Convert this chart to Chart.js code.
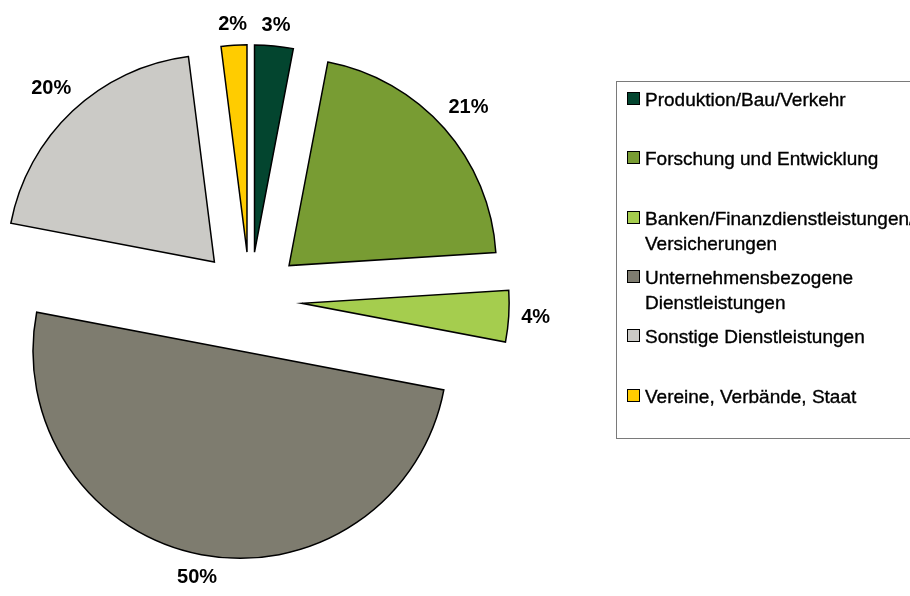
<!DOCTYPE html>
<html>
<head>
<meta charset="utf-8">
<script src="https://cdn.jsdelivr.net/npm/chart.js@4.4.0/dist/chart.umd.min.js"></script>
<style>
  html, body { margin: 0; padding: 0; background: #fff; overflow: hidden; }
  #wrap { position: relative; width: 910px; height: 596px; overflow: hidden; }
  #pie { position: absolute; left: 0; top: 0; }
  #legend {
    position: absolute; left: 616px; top: 81px; width: 330px; height: 356px;
    border: 1px solid #7a7a7a;
    font-family: 'Liberation Sans', Arial, sans-serif; font-size: 19px; line-height: 25px; color: #000;
    -webkit-text-stroke: 0.35px #000;
  }
  .item { position: absolute; left: 10px; white-space: nowrap; }
  .sw { position: absolute; left: 0; top: 5px; width: 11px; height: 11px; border: 1px solid #000; }
  .txt { position: absolute; left: 18px; top: 0; }
</style>
</head>
<body>
<div id="wrap">
  <canvas id="pie" width="910" height="596"></canvas>
  <div id="legend"></div>
</div>
<script>
// categories (legend lines), shares in percent, slice colours
var labels = [
  ['Produktion/Bau/Verkehr'],
  ['Forschung und Entwicklung'],
  ['Banken/Finanzdienstleistungen/', 'Versicherungen'],
  ['Unternehmensbezogene', 'Dienstleistungen'],
  ['Sonstige Dienstleistungen'],
  ['Vereine, Verbände, Staat']
];
var shares = [3, 21, 4, 50, 20, 2];
var colors = ['#03452F', '#789C33', '#A5CD4E', '#7E7C6F', '#CBCAC6', '#FFCC00'];

// how far each slice is pulled out, px
var explode = [48, 52, 52, 52, 52, 48];
var LEGEND_PITCH = 59.3;

// draw each slice shifted out along its middle angle (exploded pie)
var explodePlugin = {
  id: 'explode',
  beforeDatasetDraw: function(chart, args) {
    var ctx = chart.ctx;
    args.meta.data.forEach(function(arc, i) {
      var mid = (arc.startAngle + arc.endAngle) / 2;
      ctx.save();
      ctx.translate(Math.cos(mid) * explode[i], Math.sin(mid) * explode[i]);
      arc.draw(ctx);
      ctx.restore();
    });
    return false;
  }
};

// percentage labels just outside each exploded slice
var pctPlugin = {
  id: 'pctLabels',
  afterDatasetsDraw: function(chart) {
    var ctx = chart.ctx;
    var meta = chart.getDatasetMeta(0);
    ctx.save();
    ctx.font = 'bold 20px "Liberation Sans", Arial, sans-serif';
    ctx.fillStyle = '#000';
    ctx.textAlign = 'center';
    ctx.textBaseline = 'middle';
    meta.data.forEach(function(arc, i) {
      var mid = (arc.startAngle + arc.endAngle) / 2;
      var ux = Math.cos(mid), uy = Math.sin(mid);
      var text = shares[i] + '%';
      var w = ctx.measureText(text).width, h = 15;
      var r = arc.outerRadius + explode[i] + 12 + w / 2 * Math.abs(ux) + h / 2 * Math.abs(uy);
      ctx.fillText(text, arc.x + ux * r, arc.y + uy * r);
    });
    ctx.restore();
  }
};

new Chart(document.getElementById('pie'), {
  type: 'pie',
  data: {
    labels: labels.map(function(l) { return l.join(' '); }),
    datasets: [{
      data: shares,
      backgroundColor: colors,
      borderColor: '#000',
      borderWidth: 1.5,
      borderJoinStyle: 'miter'
    }]
  },
  options: {
    responsive: false,
    animation: false,
    events: [],
    layout: { padding: { left: 42, right: 452, top: 92, bottom: 88 } },
    plugins: {
      legend: { display: false },
      tooltip: { enabled: false }
    }
  },
  plugins: [explodePlugin, pctPlugin]
});

// legend box on the right
var legend = document.getElementById('legend');
labels.forEach(function(lines, i) {
  var item = document.createElement('div');
  item.className = 'item';
  item.style.top = (5 + i * LEGEND_PITCH) + 'px';
  var sw = document.createElement('div');
  sw.className = 'sw';
  sw.style.background = colors[i];
  var txt = document.createElement('div');
  txt.className = 'txt';
  txt.innerHTML = lines.join('<br>');
  item.appendChild(sw);
  item.appendChild(txt);
  legend.appendChild(item);
});
</script>
</body>
</html>
